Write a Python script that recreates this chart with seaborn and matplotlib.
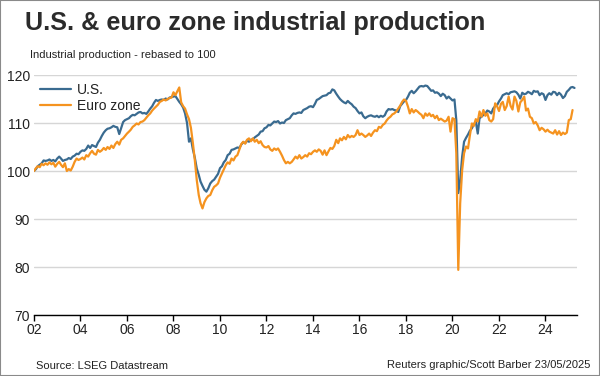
import matplotlib
matplotlib.use("Agg")
import matplotlib.pyplot as plt
import matplotlib.dates as mdates
import pandas as pd
import seaborn as sns
from matplotlib.patches import Rectangle

# Industrial production, rebased to 100 (Jan 2002), monthly readings
us_values = [
    100.0, 100.4, 101.0, 101.3, 101.6, 102.2, 102.1, 102.2, 102.4, 102.1, 102.3, 102.0,  # 2002
    102.6, 103.0, 102.6, 102.1, 102.3, 102.4, 102.7, 102.5, 103.0, 103.2, 103.6, 103.5,  # 2003
    104.0, 104.3, 104.2, 104.6, 105.3, 104.8, 105.4, 105.2, 105.0, 105.9, 106.5, 107.3,  # 2004
    108.0, 108.5, 108.8, 108.9, 109.1, 109.4, 109.2, 109.1, 107.7, 108.9, 110.2, 110.6,  # 2005
    110.8, 111.0, 111.4, 111.7, 111.6, 111.9, 112.2, 112.3, 112.0, 112.1, 111.9, 112.4,  # 2006
    113.0, 113.5, 114.2, 114.8, 114.6, 114.8, 114.9, 114.8, 115.1, 114.9, 115.3, 115.4,  # 2007
    115.5, 115.6, 115.0, 114.4, 113.9, 113.2, 112.0, 110.0, 106.1, 106.8, 104.5, 102.8,  # 2008
    100.5, 99.2, 97.8, 96.9, 96.1, 95.7, 96.4, 97.4, 97.9, 98.2, 98.8, 99.4,  # 2009
    100.6, 101.0, 101.8, 102.3, 103.3, 103.6, 104.4, 104.5, 104.7, 104.9, 104.8, 105.5,  # 2010
    106.0, 105.8, 106.3, 106.1, 106.5, 106.6, 107.0, 107.3, 107.6, 108.2, 108.3, 108.9,  # 2011
    109.1, 109.6, 109.5, 109.9, 110.3, 110.2, 110.4, 109.9, 110.1, 110.0, 110.6, 110.8,  # 2012
    111.0, 111.6, 112.0, 111.9, 112.1, 112.2, 112.1, 112.7, 112.9, 113.1, 113.4, 113.5,  # 2013
    113.3, 114.0, 114.8, 115.0, 115.3, 115.6, 115.7, 115.8, 116.2, 116.3, 117.0, 116.8,  # 2014
    116.1, 115.5, 115.0, 114.6, 114.3, 114.1, 114.6, 114.2, 113.9, 113.4, 113.1, 112.5,  # 2015
    112.0, 112.2, 111.4, 111.0, 111.3, 111.5, 111.6, 111.4, 111.3, 111.5, 111.2, 111.5,  # 2016
    111.3, 111.6, 112.4, 112.9, 112.8, 112.9, 112.7, 112.6, 112.3, 113.5, 114.0, 114.5,  # 2017
    114.8, 115.5, 116.3, 116.7, 116.2, 116.6, 117.1, 117.6, 117.7, 117.6, 117.8, 117.7,  # 2018
    117.2, 116.7, 116.8, 116.3, 116.4, 116.1, 115.6, 116.1, 115.8, 115.1, 115.5, 115.1,  # 2019
    114.7, 114.9, 110.6, 95.4, 98.1, 103.0, 106.1, 106.9, 107.6, 108.4, 108.9, 109.7,  # 2020
    110.3, 107.8, 111.0, 111.3, 111.7, 112.0, 112.6, 112.4, 112.0, 113.0, 113.5, 113.7,  # 2021
    114.5, 115.1, 115.8, 116.0, 116.2, 116.0, 116.4, 116.5, 116.6, 116.4, 115.9, 115.1,  # 2022
    116.3, 116.0, 116.1, 116.5, 116.3, 116.0, 116.7, 116.5, 116.6, 115.8, 116.2, 116.0,  # 2023
    114.8, 115.8, 116.2, 115.9, 116.5, 116.4, 115.8, 116.3, 115.9, 115.2, 115.6, 116.5,  # 2024
    116.9, 117.4, 117.5, 117.3,  # 2025
]

ez_values = [
    100.0, 100.6, 101.0, 100.8, 101.5, 101.2, 101.6, 101.3, 101.8, 101.4, 101.7, 100.9,  # 2002
    101.5, 101.9, 101.3, 100.8, 101.6, 100.0, 100.4, 100.1, 100.9, 101.9, 102.6, 102.3,  # 2003
    102.5, 102.8, 102.4, 103.3, 103.0, 103.7, 104.2, 103.6, 103.4, 104.4, 104.0, 104.3,  # 2004
    104.8, 104.4, 105.0, 104.6, 105.3, 104.8, 105.6, 106.1, 105.5, 106.5, 106.8, 107.3,  # 2005
    107.8, 108.2, 108.6, 109.2, 109.5, 109.9, 109.7, 110.2, 110.3, 110.6, 111.1, 111.6,  # 2006
    112.0, 112.6, 113.0, 113.4, 113.8, 114.4, 114.6, 114.9, 114.7, 115.0, 115.2, 115.3,  # 2007
    116.4, 115.8, 116.6, 117.4, 114.3, 113.5, 113.0, 111.8, 110.8, 109.0, 105.8, 102.3,  # 2008
    98.1, 95.0, 93.3, 92.2, 93.5, 94.3, 94.8, 95.0, 96.0, 96.7, 97.0, 97.4,  # 2009
    98.6, 99.5, 100.3, 101.2, 101.8, 101.5, 102.6, 102.2, 103.0, 103.3, 104.5, 105.6,  # 2010
    106.1, 105.7, 106.5, 106.8, 106.2, 106.8, 106.1, 106.5, 105.8, 106.2, 105.4, 105.0,  # 2011
    104.9, 105.2, 104.5, 104.2, 104.7, 104.4, 104.7, 104.0, 103.2, 102.3, 101.6, 101.9,  # 2012
    101.6, 101.9, 102.4, 103.0, 102.6, 103.3, 102.6, 102.9, 103.3, 103.0, 103.7, 103.5,  # 2013
    104.0, 104.3, 104.0, 104.5, 104.2, 103.4, 104.3, 103.3, 104.1, 104.8, 104.6, 105.2,  # 2014
    106.5, 105.8, 106.8, 106.4, 107.1, 106.6, 107.5, 107.0, 107.3, 107.1, 107.5, 108.5,  # 2015
    107.5, 107.8, 107.5, 107.1, 107.4, 107.8, 107.3, 108.0, 108.5, 108.3, 109.2, 109.0,  # 2016
    109.6, 109.9, 110.5, 111.0, 111.3, 111.8, 112.0, 112.4, 113.0, 113.6, 114.4, 114.9,  # 2017
    114.6, 113.4, 112.0, 112.9, 112.2, 112.7, 112.4, 112.0, 111.7, 111.0, 112.0, 111.5,  # 2018
    112.0, 111.4, 111.7, 111.0, 111.5, 110.6, 110.9, 110.6, 110.3, 110.5, 111.3, 108.2,  # 2019
    111.0, 110.8, 103.7, 79.4, 93.3, 100.2, 103.7, 105.1, 104.7, 107.5, 109.9, 109.4,  # 2020
    110.8, 110.3, 112.4, 111.3, 112.7, 111.5, 112.0, 110.6, 110.3, 110.8, 114.1, 113.5,  # 2021
    112.5, 114.0, 114.4, 112.7, 113.5, 115.5, 113.6, 112.8, 115.5, 114.6, 112.4, 114.3,  # 2022
    114.8, 115.5, 112.6, 113.0, 111.3, 111.0, 109.9, 110.2, 109.5, 108.5, 109.0, 108.7,  # 2023
    108.2, 108.6, 108.2, 108.0, 107.8, 108.5, 107.6, 108.3, 107.5, 108.0, 107.7, 108.0,  # 2024
    110.6, 110.8, 112.7,  # 2025
]

series_labels = ["U.S.", "Euro zone"]
series_colors = ["#3a6b90", "#f5931f"]
y_ticks = [70, 80, 90, 100, 110, 120]
x_tick_years = list(range(2002, 2025, 2))

us_dates = pd.date_range("2002-01-01", periods=len(us_values), freq="MS")
ez_dates = pd.date_range("2002-01-01", periods=len(ez_values), freq="MS")

sns.set_style("white")
plt.rcParams["font.family"] = ["Liberation Sans", "DejaVu Sans"]

fig = plt.figure(figsize=(6, 3.76), dpi=100)
fig.patch.set_facecolor("white")
ax = fig.add_axes([34 / 600, 1 - 315 / 376, 543 / 600, 240 / 376])

sns.lineplot(x=us_dates, y=us_values, ax=ax, color=series_colors[0],
             linewidth=1.6, label=series_labels[0])
sns.lineplot(x=ez_dates, y=ez_values, ax=ax, color=series_colors[1],
             linewidth=1.6, label=series_labels[1])

ax.set_ylim(70, 120)
ax.set_xlim(pd.Timestamp("2002-01-01"), pd.Timestamp("2025-05-10"))
ax.set_yticks(y_ticks)
ax.set_xticks([pd.Timestamp(f"{y}-01-01") for y in x_tick_years])
ax.xaxis.set_major_formatter(mdates.DateFormatter("%y"))
ax.set_xlabel("")
ax.set_ylabel("")

ax.yaxis.grid(True, color="#d6d6d6", linewidth=1)
ax.xaxis.grid(False)
ax.set_axisbelow(True)
for side in ["top", "right", "left"]:
    ax.spines[side].set_visible(False)
ax.spines["bottom"].set_color("black")
ax.spines["bottom"].set_linewidth(1)

ax.tick_params(axis="y", length=0, pad=3, labelsize=10, labelcolor="#222222")
ax.tick_params(axis="x", direction="out", length=4, width=1, color="black",
               pad=1.5, labelsize=10, labelcolor="#222222", bottom=True)

leg = ax.legend(loc="upper left", bbox_to_anchor=(40 / 600, 1 - 83 / 376),
                bbox_transform=fig.transFigure, frameon=False, fontsize=10,
                handlelength=2.2, handletextpad=0.45, labelspacing=0.15,
                borderpad=0, borderaxespad=0)
for t in leg.get_texts():
    t.set_color("#222222")

fig.text(25 / 600, 1 - 23 / 376, "U.S. & euro zone industrial production",
         fontsize=18.2, fontweight="bold", color="#2b2b2b", va="center")
fig.text(30 / 600, 1 - 55 / 376, "Industrial production - rebased to 100",
         fontsize=8, color="#222222", va="center")
fig.text(36 / 600, 1 - 366 / 376, "Source: LSEG Datastream",
         fontsize=8, color="#222222", va="center")
fig.text(590 / 600, 1 - 365 / 376, "Reuters graphic/Scott Barber 23/05/2025",
         fontsize=8, color="#222222", va="center", ha="right")

fig.patches.append(Rectangle((0, 0), 1, 1, transform=fig.transFigure,
                             fill=False, edgecolor="#8a8a8a", linewidth=1.5))

fig.savefig("out.png", dpi=100)
